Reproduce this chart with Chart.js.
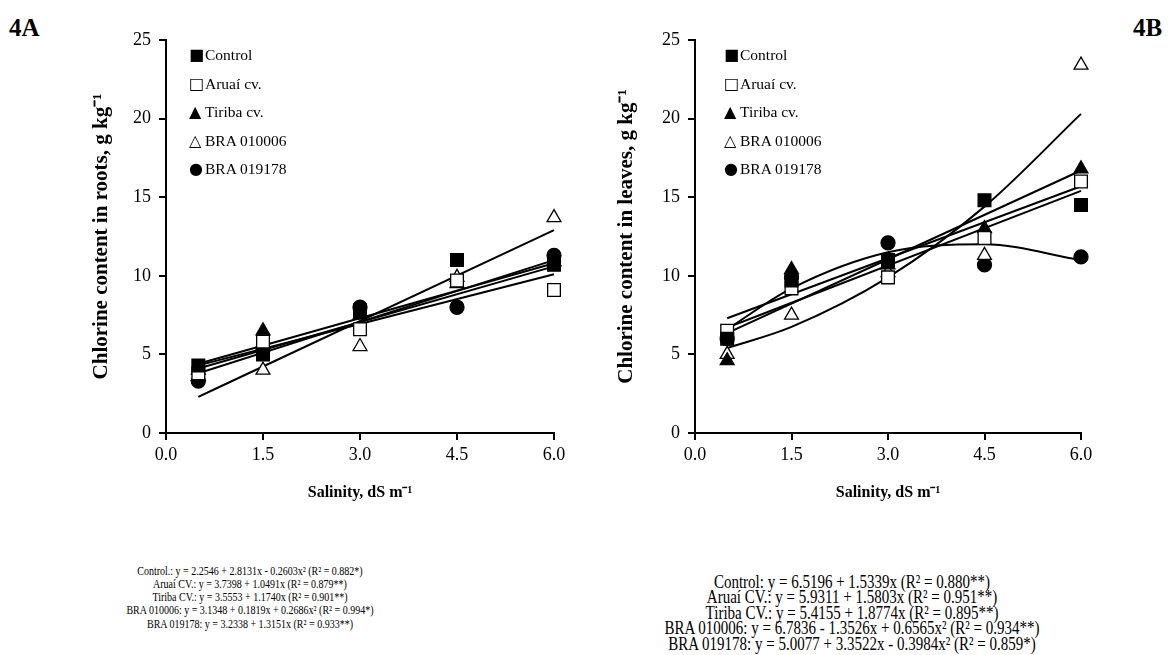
<!DOCTYPE html>
<html>
<head>
<meta charset="utf-8">
<script src="https://cdn.jsdelivr.net/npm/chart.js@4.4.1/dist/chart.umd.min.js"></script>
<style>
    body { margin: 0; background: #fff; width: 1170px; height: 655px; position: relative; overflow: hidden;
           font-family: "Liberation Serif", "Times New Roman", serif; color: #000; }
    .panel { position: absolute; top: 0; width: 585px; height: 520px; }
    .tag { position: absolute; top: 14px; font-weight: bold; font-size: 25px; font-family: "Liberation Serif", serif; }
    .legend { position: absolute; top: 41px; font-family: "Liberation Serif", serif; font-size: 15.5px; line-height: 28.5px; white-space: nowrap; }
    .legend .m { font-family: "DejaVu Sans", sans-serif; font-size: 16px; display: inline-block; width: 16px; }
    .eq { position: absolute; text-align: center; white-space: nowrap; font-family: "Liberation Serif", serif;
          transform: translateX(-50%) scaleY(1.25); transform-origin: 50% 0; }
</style>
</head>
<body>
<div class="tag" style="left:9px">4A</div>
<div class="tag" style="left:1133px">4B</div>

<div class="panel" style="left:0"><canvas id="rootsChart" width="585" height="520"></canvas></div>
<div class="panel" style="left:585px"><canvas id="leavesChart" width="585" height="520"></canvas></div>

<div class="legend" id="legendA" style="left:189px"></div>
<div class="legend" id="legendB" style="left:724px"></div>

<div class="eq" style="left:250px; top:565px; font-size:10px; line-height:10.4px">
    Control.: y = 2.2546 + 2.8131x - 0.2603x² (R² = 0.882*)<br>
    Aruaí CV.: y = 3.7398 + 1.0491x (R² = 0.879**)<br>
    Tiriba CV.: y = 3.5553 + 1.1740x (R² = 0.901**)<br>
    BRA 010006: y = 3.1348 + 0.1819x + 0.2686x² (R² = 0.994*)<br>
    BRA 019178: y = 3.2338 + 1.3151x (R² = 0.933**)
</div>
<div class="eq" style="left:852px; top:574px; font-size:15px; line-height:12.4px">
    Control: y = 6.5196 + 1.5339x (R² = 0.880**)<br>
    Aruaí CV.: y = 5.9311 + 1.5803x (R² = 0.951**)<br>
    Tiriba CV.: y = 5.4155 + 1.8774x (R² = 0.895**)<br>
    BRA 010006: y = 6.7836 - 1.3526x + 0.6565x² (R² = 0.934**)<br>
    BRA 019178: y = 5.0077 + 3.3522x - 0.3984x² (R² = 0.859*)
</div>

<script>
// Salinity levels and axis ticks
const salinity = [0.5, 1.5, 3.0, 4.5, 6.0];
const fitEnds = [0.5, 6.0];
const xTicks = [0, 1.5, 3.0, 4.5, 6.0];
const yTicks = [0, 5, 10, 15, 20, 25];
const seriesNames = ['Control', 'Aruaí cv.', 'Tiriba cv.', 'BRA 010006', 'BRA 019178'];
const legendGlyphs = ['■', '□', '▲', '△', '●'];

// 4A - chlorine in roots (measured)
const rootsControl = [4.3, 5.0, 7.8, 11.0, 10.7];
const rootsAruai = [3.8, 5.8, 6.6, 9.7, 9.1];
const rootsTiriba = [4.0, 6.5, 7.5, 9.5, 10.9];
const rootsBRA010006 = [3.6, 4.0, 5.5, 9.9, 13.7];
const rootsBRA019178 = [3.3, 5.3, 8.0, 8.0, 11.3];

// 4A - fitted lines, read at 0.5 and 6.0
const rootsFitControl = [4.4, 10.8];
const rootsFitAruai = [4.3, 10.1];
const rootsFitTiriba = [4.1, 10.6];
const rootsFitBRA010006 = [2.3, 12.9];
const rootsFitBRA019178 = [3.8, 11.0];

// 4B - chlorine in leaves (measured)
const leavesControl = [6.0, 9.7, 11.0, 14.8, 14.5];
const leavesAruai = [6.5, 9.2, 9.9, 12.4, 16.0];
const leavesTiriba = [4.6, 10.4, 10.7, 13.0, 16.8];
const leavesBRA010006 = [5.0, 7.5, 10.2, 11.3, 23.4];
const leavesBRA019178 = [6.0, 9.9, 12.1, 10.7, 11.2];

// 4B - fitted lines (straight ones at 0.5 / 6.0, curves at every level)
const leavesFitControl = [7.3, 15.7];
const leavesFitAruai = [6.7, 15.4];
const leavesFitTiriba = [6.35, 16.7];
const leavesFitBRA010006 = [5.4, 6.75, 9.9, 14.4, 20.3];
const leavesFitBRA019178 = [6.6, 9.2, 11.5, 12.0, 11.0];

const markers = [
    { pointStyle: 'rect', radius: 9, fill: '#000' },
    { pointStyle: 'rect', radius: 9, fill: '#fff' },
    { pointStyle: 'triangle', radius: 8, fill: '#000' },
    { pointStyle: 'triangle', radius: 8, fill: '#fff' },
    { pointStyle: 'circle', radius: 7, fill: '#000' }
];

const toXY = (xs, ys) => xs.map((x, i) => ({ x: x, y: ys[i] }));

function pointSet(values, idx) {
    const m = markers[idx];
    return {
        label: seriesNames[idx],
        data: toXY(salinity, values),
        showLine: false,
        clip: false,
        pointStyle: m.pointStyle,
        pointRadius: m.radius,
        pointBackgroundColor: m.fill,
        pointBorderColor: '#000',
        pointBorderWidth: 1.3,
        order: 1
    };
}

function fitSet(xs, values) {
    return {
        label: 'fit',
        data: toXY(xs, values),
        showLine: true,
        clip: false,
        borderColor: '#000',
        borderWidth: 2,
        pointRadius: 0,
        cubicInterpolationMode: 'monotone',
        fill: false,
        order: 2
    };
}

const tickFont = { family: '"Liberation Serif", serif', size: 18 };
const xTitleFont = { family: '"Liberation Serif", serif', size: 16, weight: 'bold' };
const yTitleFont = { family: '"Liberation Serif", serif', size: 21, weight: 'bold' };

function makeChart(id, datasets, yTitle, yAxisWidth, yTitlePad, rightPad) {
    return new Chart(document.getElementById(id), {
        type: 'scatter',
        data: { datasets: datasets },
        options: {
            responsive: false,
            animation: false,
            layout: { padding: { left: 0, top: 40, right: rightPad, bottom: 0 } },
            plugins: { legend: { display: false }, tooltip: { enabled: false } },
            scales: {
                x: {
                    type: 'linear',
                    min: 0,
                    max: 6,
                    afterBuildTicks: s => { s.ticks = xTicks.map(v => ({ value: v })); },
                    afterFit: s => { s.height = 87; },
                    ticks: { callback: v => v.toFixed(1), font: tickFont, color: '#000', padding: 4, maxRotation: 0, autoSkip: false },
                    grid: { drawOnChartArea: false, tickLength: 7, color: '#000', lineWidth: 2 },
                    border: { color: '#000', width: 2 },
                    title: { display: true, text: 'Salinity, dS m⁻¹', font: xTitleFont, color: '#000', padding: { top: 0, bottom: 18 } }
                },
                y: {
                    type: 'linear',
                    min: 0,
                    max: 25,
                    afterBuildTicks: s => { s.ticks = yTicks.map(v => ({ value: v })); },
                    afterFit: s => { s.width = yAxisWidth; },
                    ticks: { font: tickFont, color: '#000', padding: 8 },
                    grid: { drawOnChartArea: false, tickLength: 7, color: '#000', lineWidth: 2 },
                    border: { color: '#000', width: 2 },
                    title: { display: true, text: yTitle, font: yTitleFont, color: '#000', padding: { top: yTitlePad, bottom: 0 } }
                }
            }
        }
    });
}

makeChart('rootsChart', [
    fitSet(fitEnds, rootsFitControl),
    fitSet(fitEnds, rootsFitAruai),
    fitSet(fitEnds, rootsFitTiriba),
    fitSet(fitEnds, rootsFitBRA010006),
    fitSet(fitEnds, rootsFitBRA019178),
    pointSet(rootsControl, 0),
    pointSet(rootsAruai, 1),
    pointSet(rootsTiriba, 2),
    pointSet(rootsBRA010006, 3),
    pointSet(rootsBRA019178, 4)
], 'Chlorine content in roots, g kg⁻¹', 166, 89, 31);

makeChart('leavesChart', [
    fitSet(fitEnds, leavesFitControl),
    fitSet(fitEnds, leavesFitAruai),
    fitSet(fitEnds, leavesFitTiriba),
    fitSet(salinity, leavesFitBRA010006),
    fitSet(salinity, leavesFitBRA019178),
    pointSet(leavesControl, 0),
    pointSet(leavesAruai, 1),
    pointSet(leavesTiriba, 2),
    pointSet(leavesBRA010006, 3),
    pointSet(leavesBRA019178, 4)
], 'Chlorine content in leaves, g kg⁻¹', 110, 29, 89);

// Legends inside the plot area
['legendA', 'legendB'].forEach(id => {
    document.getElementById(id).innerHTML = seriesNames
        .map((n, i) => '<div><span class="m">' + legendGlyphs[i] + '</span>' + n + '</div>')
        .join('');
});
</script>
</body>
</html>
